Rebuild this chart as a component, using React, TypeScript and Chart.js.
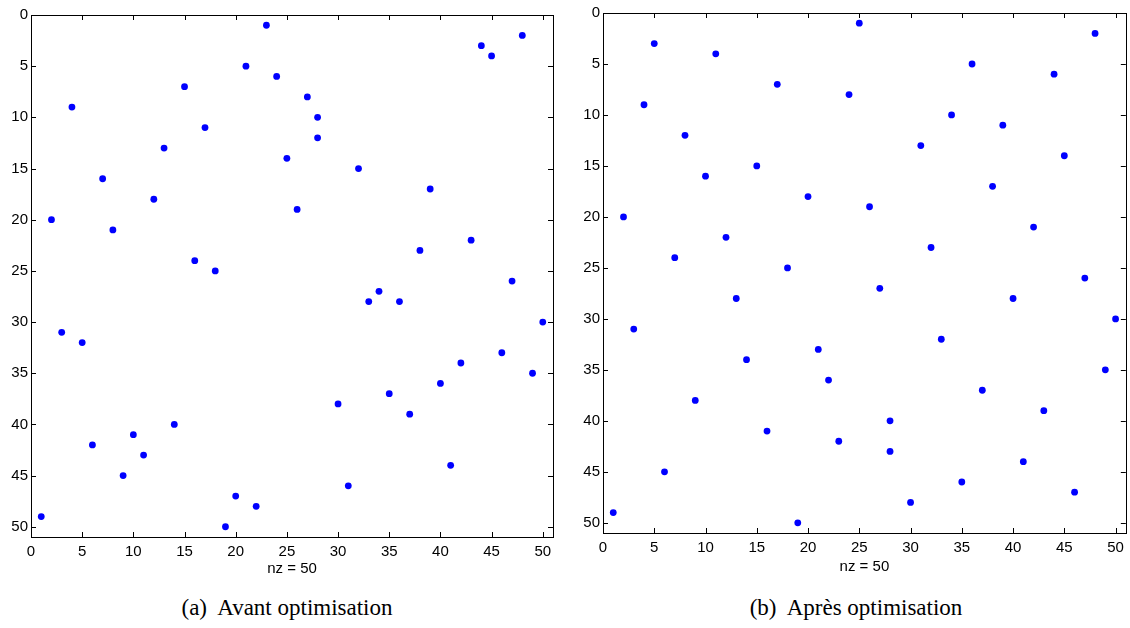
import React, { useEffect, useRef } from "react";
import { Chart, registerables } from "chart.js";

Chart.register(...registerables);

// ---- data ----
const TICKS = [0, 5, 10, 15, 20, 25, 30, 35, 40, 45, 50];
const AXIS_MIN = 0;
const AXIS_MAX = 51;

const beforeCols = [1, 2, 3, 4, 5, 6, 7, 8, 9, 10, 11, 12, 13, 14, 15, 16, 17, 18, 19, 20, 21, 22, 23, 24, 25, 26, 27, 28, 28, 30, 31, 32, 33, 34, 35, 36, 37, 38, 39, 40, 41, 42, 43, 44, 45, 46, 47, 48, 49, 50];
const beforeRows = [49, 20, 31, 9, 32, 42, 16, 21, 45, 41, 43, 18, 13, 40, 7, 24, 11, 25, 50, 47, 5, 48, 1, 6, 14, 19, 8, 10, 12, 38, 46, 15, 28, 27, 37, 28, 39, 23, 17, 36, 44, 34, 22, 3, 4, 33, 26, 2, 35, 30];

const afterCols = [1, 2, 3, 4, 5, 6, 7, 8, 9, 10, 11, 12, 13, 14, 15, 16, 17, 18, 19, 20, 21, 22, 23, 24, 25, 26, 27, 28, 28, 30, 31, 32, 33, 34, 35, 36, 37, 38, 39, 40, 41, 42, 43, 44, 45, 46, 47, 48, 49, 50];
const afterRows = [49, 20, 31, 9, 3, 45, 24, 12, 38, 16, 4, 22, 28, 34, 15, 41, 7, 25, 50, 18, 33, 36, 42, 8, 1, 19, 27, 40, 43, 48, 13, 23, 32, 10, 46, 5, 37, 17, 11, 28, 44, 21, 39, 6, 14, 47, 26, 2, 35, 30];

const nzLabel = "nz = 50";
const captionA = "(a)  Avant optimisation";
const captionB = "(b)  Après optimisation";

const SANS = "'Liberation Sans', Arial, Helvetica, sans-serif";
const SERIF = "'Liberation Serif', 'Times New Roman', serif";

const framePlugin = {
  id: "spyFrame",
  afterDatasetsDraw(chart: any) {
    const { ctx, chartArea } = chart;
    const { left, right, top, bottom } = chartArea;
    const xs = chart.scales.x;
    const ys = chart.scales.y;
    const len = 5;
    ctx.save();
    ctx.strokeStyle = "#000";
    ctx.lineWidth = 1;
    ctx.beginPath();
    xs.ticks.forEach((t: any) => {
      const px = Math.round(xs.getPixelForValue(t.value)) + 0.5;
      ctx.moveTo(px, bottom);
      ctx.lineTo(px, bottom - len);
      ctx.moveTo(px, top);
      ctx.lineTo(px, top + len);
    });
    ys.ticks.forEach((t: any) => {
      const py = Math.round(ys.getPixelForValue(t.value)) + 0.5;
      ctx.moveTo(left, py);
      ctx.lineTo(left + len, py);
      ctx.moveTo(right, py);
      ctx.lineTo(right - len, py);
    });
    ctx.stroke();
    ctx.strokeRect(Math.round(left) + 0.5, Math.round(top) + 0.5, Math.round(right - left), Math.round(bottom - top));
    ctx.restore();
  },
};

type SpyProps = {
  cols: number[];
  rows: number[];
  x: number;
  width: number;
  height: number;
  padTop: number;
  padRight: number;
  yAxisWidth: number;
  xAxisHeight: number;
  titlePad: number;
};

function SpyPlot(p: SpyProps) {
  const ref = useRef<HTMLCanvasElement | null>(null);
  useEffect(() => {
    if (!ref.current) return;
    const data = p.cols.map((c, i) => ({ x: c, y: p.rows[i] }));
    const setTicks = (s: any) => {
      s.ticks = TICKS.map((v) => ({ value: v }));
    };
    const chart = new Chart(ref.current, {
      type: "scatter",
      data: {
        datasets: [
          {
            data,
            pointRadius: 3.4,
            pointHoverRadius: 3.4,
            pointBackgroundColor: "#0000ff",
            pointBorderColor: "#0000ff",
            pointBorderWidth: 0,
          },
        ],
      },
      options: {
        animation: false,
        responsive: false,
        events: [],
        layout: { padding: { top: p.padTop, right: p.padRight, left: 0, bottom: 0 } },
        plugins: { legend: { display: false }, tooltip: { enabled: false } },
        scales: {
          x: {
            type: "linear",
            min: AXIS_MIN,
            max: AXIS_MAX,
            afterBuildTicks: setTicks,
            afterFit: (s: any) => {
              s.height = p.xAxisHeight;
            },
            grid: { display: false, drawTicks: false },
            border: { display: false },
            ticks: { color: "#000", font: { family: SANS, size: 15 }, padding: 6, autoSkip: false, maxRotation: 0 },
            title: {
              display: true,
              text: nzLabel,
              color: "#000",
              font: { family: SANS, size: 15 },
              padding: { top: 0, bottom: p.titlePad },
            },
          },
          y: {
            type: "linear",
            min: AXIS_MIN,
            max: AXIS_MAX,
            reverse: true,
            afterBuildTicks: setTicks,
            afterFit: (s: any) => {
              s.width = p.yAxisWidth;
            },
            grid: { display: false, drawTicks: false },
            border: { display: false },
            ticks: { color: "#000", font: { family: SANS, size: 15 }, padding: 3, autoSkip: false },
          },
        },
      },
      plugins: [framePlugin],
    });
    return () => chart.destroy();
  }, []);
  return (
    <canvas
      ref={ref}
      width={p.width}
      height={p.height}
      style={{ position: "absolute", left: p.x, top: 0, width: p.width, height: p.height, display: "block" }}
    />
  );
}

export default function App() {
  const capStyle: React.CSSProperties = {
    position: "absolute",
    top: 594,
    fontFamily: SERIF,
    fontSize: 23,
    lineHeight: "27px",
    textAlign: "center",
    whiteSpace: "pre",
    color: "#000",
  };
  return (
    <div style={{ position: "absolute", left: 0, top: 0, width: 1130, height: 628, background: "#fff", overflow: "hidden" }}>
      <SpyPlot cols={beforeCols} rows={beforeRows} x={0} width={570} height={582} padTop={15} padRight={17} yAxisWidth={31} xAxisHeight={45} titlePad={4} />
      <SpyPlot cols={afterCols} rows={afterRows} x={570} width={560} height={582} padTop={13} padRight={4} yAxisWidth={33} xAxisHeight={49} titlePad={6} />
      <div style={{ ...capStyle, left: 0, width: 574 }}>{captionA}</div>
      <div style={{ ...capStyle, left: 570, width: 572 }}>{captionB}</div>
    </div>
  );
}
